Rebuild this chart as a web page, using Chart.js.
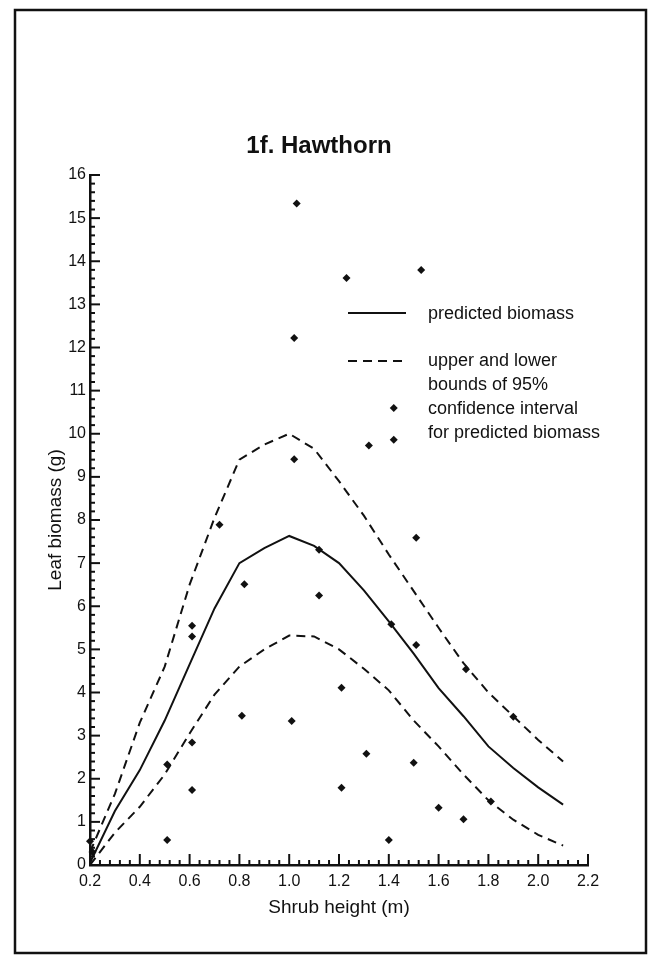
<!DOCTYPE html>
<html>
<head>
<meta charset="utf-8">
<script src="https://cdn.jsdelivr.net/npm/chart.js@4.4.1/dist/chart.umd.min.js"></script>
<style>
  html, body { margin: 0; padding: 0; background: #fff; }
  canvas { display: block; }
</style>
</head>
<body>
<canvas id="chart" width="648" height="958"></canvas>
<script>
// model curves at 0.1 m steps
const curveX     = [0.2, 0.3, 0.4, 0.5, 0.6, 0.7, 0.8, 0.9, 1.0, 1.1, 1.2, 1.3, 1.4, 1.5, 1.6, 1.7, 1.8, 1.9, 2.0, 2.1];
const predicted  = [0.05, 1.25, 2.2, 3.35, 4.65, 5.95, 7.0, 7.35, 7.63, 7.4, 7.0, 6.37, 5.65, 4.9, 4.1, 3.45, 2.75, 2.25, 1.8, 1.4];
const upperBound = [0.3, 1.65, 3.3, 4.6, 6.5, 8.05, 9.4, 9.75, 10.0, 9.65, 8.9, 8.1, 7.2, 6.35, 5.5, 4.68, 4.0, 3.45, 2.9, 2.4];
const lowerBound = [0.0, 0.75, 1.35, 2.1, 3.05, 3.95, 4.6, 5.0, 5.32, 5.3, 5.0, 4.55, 4.05, 3.35, 2.75, 2.1, 1.5, 1.05, 0.7, 0.45];

// measured shrubs
const sampleX = [0.2, 0.21, 0.51, 0.51, 0.61, 0.61, 0.61, 0.61, 0.72, 0.82, 0.81, 1.03, 1.02, 1.02, 1.01, 1.12, 1.12, 1.23, 1.21, 1.21,
                 1.32, 1.31, 1.42, 1.42, 1.41, 1.40, 1.53, 1.51, 1.51, 1.50, 1.60, 1.71, 1.70, 1.81, 1.90];
const sampleY = [0.55, 0.3, 2.33, 0.58, 5.55, 5.30, 2.84, 1.74, 7.89, 6.51, 3.46, 15.34, 12.22, 9.41, 3.34, 7.31, 6.25, 13.61, 4.11, 1.79,
                 9.73, 2.58, 10.6, 9.86, 5.58, 0.58, 13.8, 7.59, 5.10, 2.37, 1.33, 4.54, 1.06, 1.47, 3.44];

const xTicks = [0.2, 0.4, 0.6, 0.8, 1.0, 1.2, 1.4, 1.6, 1.8, 2.0, 2.2];
const yTicks = [0, 1, 2, 3, 4, 5, 6, 7, 8, 9, 10, 11, 12, 13, 14, 15, 16];

const chartTitle = "1f. Hawthorn";
const legendSolid = ["predicted biomass"];
const legendDashed = ["upper and lower", "bounds of 95%", "confidence interval", "for predicted biomass"];

const FONT = "Liberation Sans, Arial, Helvetica, sans-serif";
const INK = "#111";

const toPoints = (xs, ys) => xs.map((x, i) => ({ x: x, y: ys[i] }));

// frame, inward ticks, title and the hand-placed legend
const decorPlugin = {
  id: "decor",
  afterDraw(chart) {
    const ctx = chart.ctx;
    const xs = chart.scales.x;
    const ys = chart.scales.y;
    const area = chart.chartArea;
    ctx.save();
    ctx.strokeStyle = INK;
    ctx.fillStyle = INK;

    // y ticks (major + 4 minor)
    ctx.lineWidth = 2;
    for (let i = 0; i < yTicks.length; i++) {
      const py = ys.getPixelForValue(yTicks[i]);
      ctx.beginPath();
      ctx.moveTo(area.left, py);
      ctx.lineTo(area.left + 10, py);
      ctx.stroke();
      if (i < yTicks.length - 1) {
        const step = (yTicks[i + 1] - yTicks[i]) / 5;
        for (let k = 1; k < 5; k++) {
          const my = ys.getPixelForValue(yTicks[i] + k * step);
          ctx.beginPath();
          ctx.moveTo(area.left, my);
          ctx.lineTo(area.left + 5, my);
          ctx.stroke();
        }
      }
    }
    // x ticks
    for (let i = 0; i < xTicks.length; i++) {
      const px = xs.getPixelForValue(xTicks[i]);
      ctx.beginPath();
      ctx.moveTo(px, area.bottom);
      ctx.lineTo(px, area.bottom - 11);
      ctx.stroke();
      if (i < xTicks.length - 1) {
        const step = (xTicks[i + 1] - xTicks[i]) / 5;
        for (let k = 1; k < 5; k++) {
          const mx = xs.getPixelForValue(xTicks[i] + k * step);
          ctx.beginPath();
          ctx.moveTo(mx, area.bottom);
          ctx.lineTo(mx, area.bottom - 5);
          ctx.stroke();
        }
      }
    }

    // outer frame
    ctx.lineWidth = 2.5;
    ctx.strokeRect(15, 10, 631, 943);

    // title
    ctx.font = "bold 24px " + FONT;
    ctx.textAlign = "center";
    ctx.textBaseline = "middle";
    ctx.fillText(chartTitle, 319, 146);

    // legend
    ctx.lineWidth = 2;
    ctx.beginPath();
    ctx.moveTo(348, 313);
    ctx.lineTo(406, 313);
    ctx.stroke();
    ctx.setLineDash([9, 6]);
    ctx.beginPath();
    ctx.moveTo(348, 361);
    ctx.lineTo(406, 361);
    ctx.stroke();
    ctx.setLineDash([]);

    ctx.font = "18px " + FONT;
    ctx.textAlign = "left";
    ctx.fillText(legendSolid[0], 428, 314);
    legendDashed.forEach((t, i) => ctx.fillText(t, 428, 361 + i * 24));
    ctx.restore();
  }
};

new Chart(document.getElementById("chart"), {
  type: "scatter",
  data: {
    datasets: [
      {
        label: "predicted biomass",
        data: toPoints(curveX, predicted),
        showLine: true,
        borderColor: INK,
        borderWidth: 2,
        pointRadius: 0
      },
      {
        label: "upper bound",
        data: toPoints(curveX, upperBound),
        showLine: true,
        borderColor: INK,
        borderWidth: 2,
        borderDash: [9, 6],
        pointRadius: 0
      },
      {
        label: "lower bound",
        data: toPoints(curveX, lowerBound),
        showLine: true,
        borderColor: INK,
        borderWidth: 2,
        borderDash: [9, 6],
        pointRadius: 0
      },
      {
        label: "shrubs",
        data: toPoints(sampleX, sampleY),
        pointStyle: "rectRot",
        pointRadius: 4,
        backgroundColor: INK,
        borderColor: INK,
        borderWidth: 0,
        clip: false
      }
    ]
  },
  options: {
    responsive: false,
    animation: false,
    devicePixelRatio: 1,
    layout: { padding: { left: 0, top: 175, right: 60, bottom: 0 } },
    plugins: {
      legend: { display: false },
      tooltip: { enabled: false }
    },
    scales: {
      x: {
        type: "linear",
        min: 0.2,
        max: 2.2,
        afterBuildTicks: (scale) => { scale.ticks = xTicks.map(v => ({ value: v })); },
        afterFit: (scale) => { scale.height = 93; },
        grid: { display: false, drawTicks: false },
        border: { display: true, color: INK, width: 2.5 },
        ticks: {
          color: INK,
          padding: 7,
          maxRotation: 0,
          autoSkip: false,
          font: { family: FONT, size: 16 },
          callback: (v) => Number(v).toFixed(1)
        },
        title: {
          display: true,
          text: "Shrub height (m)",
          color: INK,
          font: { family: FONT, size: 19 },
          padding: { top: 0, bottom: 39 }
        }
      },
      y: {
        type: "linear",
        min: 0,
        max: 16,
        afterBuildTicks: (scale) => { scale.ticks = yTicks.map(v => ({ value: v })); },
        afterFit: (scale) => { scale.width = 90; },
        grid: { display: false, drawTicks: false },
        border: { display: true, color: INK, width: 2.5 },
        ticks: {
          color: INK,
          padding: 4,
          autoSkip: false,
          font: { family: FONT, size: 16 }
        },
        title: {
          display: true,
          text: "Leaf biomass (g)",
          color: INK,
          font: { family: FONT, size: 19 },
          padding: { top: 44, bottom: 0 }
        }
      }
    }
  },
  plugins: [decorPlugin]
});
</script>
</body>
</html>
